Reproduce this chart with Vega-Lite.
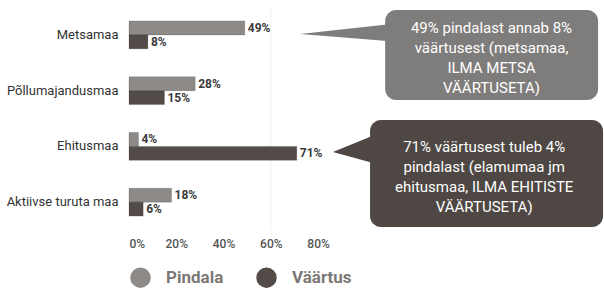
{
  "$schema": "https://vega.github.io/schema/vega-lite/v6.json",
  "width": 475,
  "height": 223,
  "autosize": {"type": "none"},
  "padding": {"left": 129, "top": 7, "right": 0, "bottom": 60},
  "config": {"view": {"stroke": null}, "font": "Roboto"},
  "datasets": {
    "bars": [
      {"cat": "Metsamaa", "series": "Pindala", "value": 0.49},
      {"cat": "Metsamaa", "series": "Väärtus", "value": 0.08},
      {"cat": "Põllumajandusmaa", "series": "Pindala", "value": 0.28},
      {"cat": "Põllumajandusmaa", "series": "Väärtus", "value": 0.15},
      {"cat": "Ehitusmaa", "series": "Pindala", "value": 0.04},
      {"cat": "Ehitusmaa", "series": "Väärtus", "value": 0.71},
      {"cat": "Aktiivse turuta maa", "series": "Pindala", "value": 0.18},
      {"cat": "Aktiivse turuta maa", "series": "Väärtus", "value": 0.06}
    ],
    "boxes": [
      {"id": "A", "x1": 1.084, "x2": 1.985, "y1": -0.446, "y2": 1.168, "tx": 1.534, "ty": -0.123, "text": "49% pindalast annab 8%\nväärtusest (metsamaa,\nILMA  METSA\nVÄÄRTUSETA)"},
      {"id": "B", "x1": 1.02, "x2": 2.006, "y1": 1.527, "y2": 3.446, "tx": 1.503, "ty": 2.011, "text": "71% väärtusest tuleb 4%\npindalast (elamumaa jm\nehitusmaa, ILMA EHITISTE\nVÄÄRTUSETA)"}
    ],
    "pointers": [
      {"id": "A", "px": 0.724, "py1": -0.016, "py2": -0.016},
      {"id": "A", "px": 1.12, "py1": -0.2, "py2": 0.12},
      {"id": "B", "px": 0.863, "py1": 2.1, "py2": 2.1},
      {"id": "B", "px": 1.06, "py1": 1.76, "py2": 2.33}
    ]
  },
  "layer": [
    {
      "data": {"values": [{}]},
      "mark": {"type": "rule", "color": "#efefef", "strokeWidth": 1},
      "encoding": {"x": {"datum": 0.6, "type": "quantitative", "title": null}}
    },
    {
      "data": {"name": "bars"},
      "encoding": {
        "y": {
          "field": "cat", "type": "nominal",
          "sort": ["Metsamaa", "Põllumajandusmaa", "Ehitusmaa", "Aktiivse turuta maa"],
          "scale": {"paddingInner": 0.5, "paddingOuter": 0.25},
          "axis": {"title": null, "ticks": false, "domain": false, "labelPadding": 11, "labelFontSize": 13, "labelColor": "#333333", "labelFont": "Roboto"}
        },
        "yOffset": {"field": "series", "type": "nominal", "sort": ["Pindala", "Väärtus"]},
        "x": {
          "field": "value", "type": "quantitative",
          "scale": {"domain": [0, 2.01], "nice": false},
          "axis": {"values": [0, 0.2, 0.4, 0.6, 0.8], "format": ".0%", "title": null, "grid": false, "ticks": false, "domain": false, "labelPadding": 8, "labelFontSize": 12, "labelFontWeight": 500, "labelColor": "#555555", "labelFont": "Roboto"}
        }
      },
      "layer": [
        {
          "mark": {"type": "bar", "stroke": "#000000", "strokeOpacity": 0.15, "strokeWidth": 1},
          "encoding": {
            "color": {
              "field": "series", "type": "nominal",
              "scale": {"domain": ["Pindala", "Väärtus"], "range": ["#8d8a88", "#534b47"]},
              "legend": {
                "title": null, "orient": "none", "legendX": 1, "legendY": 260, "direction": "horizontal",
                "padding": 0, "symbolType": "circle", "symbolSize": 420, "symbolStrokeWidth": 0,
                "labelFontSize": 17, "labelFont": "Roboto", "labelFontWeight": "bold", "labelOffset": 15, "columnPadding": 32,
                "labelColor": "#7b7876",
                "encode": {"labels": {"update": {"fill": {"signal": "datum.label === 'Pindala' ? '#7b7876' : '#3b3532'"}}}}
              }
            }
          }
        },
        {
          "mark": {"type": "text", "align": "left", "baseline": "middle", "dx": 3, "fontSize": 12, "fontWeight": "bold", "color": "#3a3a3a"},
          "encoding": {"text": {"field": "value", "type": "quantitative", "format": ".0%"}}
        }
      ]
    },
    {
      "layer": [
        {
          "data": {"name": "boxes"},
          "mark": {"type": "rect", "cornerRadius": 11},
          "encoding": {
            "x": {"field": "x1", "type": "quantitative", "title": null},
            "x2": {"field": "x2"},
            "y": {"field": "y1", "type": "quantitative", "scale": {"domain": [-0.5, 3.5], "reverse": true, "nice": false, "zero": false}, "axis": null},
            "y2": {"field": "y2"},
            "color": {"field": "id", "type": "nominal", "scale": {"domain": ["A", "B"], "range": ["#7f7d7b", "#4e4743"]}, "legend": null}
          }
        },
        {
          "data": {"name": "pointers"},
          "mark": {"type": "area", "orient": "vertical"},
          "encoding": {
            "x": {"field": "px", "type": "quantitative", "title": null},
            "y": {"field": "py1", "type": "quantitative", "axis": null},
            "y2": {"field": "py2"},
            "detail": {"field": "id"},
            "color": {"field": "id", "type": "nominal", "legend": null}
          }
        },
        {
          "data": {"name": "boxes"},
          "mark": {"type": "text", "align": "center", "baseline": "middle", "fontSize": 15, "lineHeight": 20, "color": "#ffffff", "lineBreak": "\n", "font": "Roboto"},
          "encoding": {
            "x": {"field": "tx", "type": "quantitative", "title": null},
            "y": {"field": "ty", "type": "quantitative", "axis": null},
            "text": {"field": "text"}
          }
        }
      ]
    }
  ],
  "resolve": {"scale": {"y": "independent", "color": "independent"}, "axis": {"y": "independent"}}
}
